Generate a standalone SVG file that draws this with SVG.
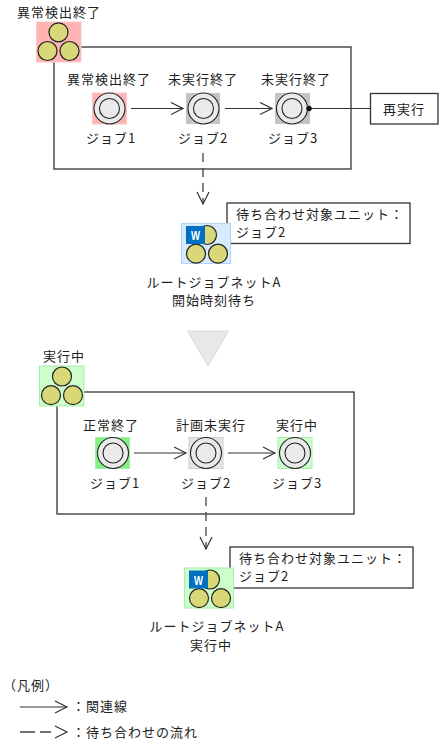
<svg xmlns="http://www.w3.org/2000/svg" width="441" height="743" viewBox="0 0 441 743">
<style>
text{font-family:"Noto Sans CJK JP","Noto Sans",sans-serif;font-size:13px;letter-spacing:1px;fill:#222}
.m{text-anchor:middle}
.box{fill:#fff;stroke:#333;stroke-width:1.3}
.ln{fill:none;stroke:#333;stroke-width:1.2}
.dash{fill:none;stroke:#444;stroke-width:1.3;stroke-dasharray:9 6}
.ball{fill:#d8d878;stroke:#222;stroke-width:1.2}
.i{fill:#eaeaea;stroke:#222;stroke-width:1.1}
.w{font-family:"Liberation Sans",sans-serif;font-size:13px;font-weight:bold;fill:#fff;letter-spacing:0}
</style>
<defs>
<marker id="a" markerUnits="userSpaceOnUse" markerWidth="16" markerHeight="16" refX="13" refY="7" orient="auto"><path d="M1 1L13 7L1 13" fill="none" stroke="#333" stroke-width="1.2"/></marker>
<g id="job"><circle cx="0" cy="0" r="15.500" fill="#eaeaea" stroke="#222" stroke-width="1.1"/><circle cx="0" cy="0" r="10" class="i"/></g>
<g id="net"><circle cx="0" cy="0" r="9.500" class="ball"/><circle cx="-11" cy="18.700" r="9.500" class="ball"/><circle cx="11" cy="18.700" r="9.500" class="ball"/></g>
</defs>
<g id="frame-top"><rect x="54" y="47" width="297" height="122" class="box"/></g>
<g id="frame-bottom"><rect x="57" y="392" width="297" height="122" class="box"/></g>
<g id="connectors">
<path class="ln" d="M131 108.500H183" marker-end="url(#a)"/>
<path class="ln" d="M225 108.500H272" marker-end="url(#a)"/>
<path class="ln" d="M309 108.500H371"/>
<path class="dash" d="M203 153V204" marker-end="url(#a)"/>
<path class="ln" d="M134 453H186" marker-end="url(#a)"/>
<path class="ln" d="M228 453H275" marker-end="url(#a)"/>
<path class="dash" d="M206 497V549" marker-end="url(#a)"/>
<path class="ln" d="M20 707H67" marker-end="url(#a)"/>
<path class="dash" style="stroke-dasharray:15 5 11 100" d="M20 732H67" marker-end="url(#a)"/>
</g>
<g id="net-top"><text x="17" y="17">異常検出終了</text><rect x="36.500" y="22" width="44.500" height="40" fill="#ffb3b3" stroke="#ffc8c8"/><use href="#net" x="58.500" y="32.300"/></g>
<g id="top-job1"><text class="m" x="109" y="84">異常検出終了</text><rect x="92.500" y="93" width="34" height="31" fill="#ffb3b3" stroke="#ffc8c8"/><use href="#job" x="109.500" y="108.500"/><text class="m" x="111" y="143">ジョブ1</text></g>
<g id="top-job2"><text class="m" x="203" y="84">未実行終了</text><rect x="186" y="93" width="34" height="31" fill="#c4c4c4"/><use href="#job" x="203.500" y="108.500"/><text class="m" x="203" y="143">ジョブ2</text></g>
<g id="top-job3"><text class="m" x="296" y="84">未実行終了</text><rect x="275" y="93" width="35" height="31" fill="#c4c4c4"/><use href="#job" x="292" y="108.500"/><circle cx="309" cy="108.500" r="2.700" fill="#111"/><text class="m" x="293" y="143">ジョブ3</text></g>
<g id="rerun"><rect x="370.500" y="93.500" width="67.500" height="30.500" class="box"/><text class="m" x="404" y="114">再実行</text></g>
<g id="wait-top"><rect x="227" y="203" width="183" height="40.500" class="box"/><text x="236" y="218.500">待ち合わせ対象ユニット：</text><text x="236" y="236.500">ジョブ2</text></g>
<g id="root-top"><rect x="181.500" y="223.500" width="49" height="40" fill="#d8eaff" stroke="#b4d4f4"/><use href="#net" x="207" y="235"/><rect x="186" y="226" width="19" height="18" fill="#0070c0"/><text class="w" x="191" y="240" textLength="9" lengthAdjust="spacingAndGlyphs">W</text><text class="m" x="214" y="287">ルートジョブネットA</text><text class="m" x="214" y="305">開始時刻待ち</text></g>
<g id="down-arrow"><path d="M187.500 331H228.500L208 366Z" fill="#e8e8e8" stroke="#d8d8d8"/></g>
<g id="net-bottom"><text x="43" y="361">実行中</text><rect x="39.500" y="366" width="44.500" height="40" fill="#ccffcc" stroke="#a8eea8"/><use href="#net" x="62" y="376.500"/></g>
<g id="bottom-job1"><text class="m" x="111" y="430">正常終了</text><rect x="95.500" y="437.500" width="34" height="31" fill="#80f080" stroke="#a8eea8"/><use href="#job" x="113" y="453"/><text class="m" x="115" y="488">ジョブ1</text></g>
<g id="bottom-job2"><text class="m" x="211" y="430">計画未実行</text><rect x="189" y="437.500" width="34" height="31" fill="#e4e4e4" stroke="#d0d0d0"/><use href="#job" x="206" y="453"/><text class="m" x="206" y="488">ジョブ2</text></g>
<g id="bottom-job3"><text class="m" x="297" y="430">実行中</text><rect x="278" y="437.500" width="34" height="31" fill="#ccffcc" stroke="#a8eea8"/><use href="#job" x="295" y="453"/><text class="m" x="297" y="488">ジョブ3</text></g>
<g id="wait-bottom"><rect x="230" y="547" width="183" height="41" class="box"/><text x="239" y="562.500">待ち合わせ対象ユニット：</text><text x="239" y="580.500">ジョブ2</text></g>
<g id="root-bottom"><rect x="184.500" y="568" width="49" height="40" fill="#ccffcc" stroke="#a8eea8"/><use href="#net" x="210" y="579.500"/><rect x="189" y="570.500" width="19" height="18" fill="#0070c0"/><text class="w" x="194" y="584.500" textLength="9" lengthAdjust="spacingAndGlyphs">W</text><text class="m" x="217" y="631">ルートジョブネットA</text><text class="m" x="211" y="650">実行中</text></g>
<g id="legend"><text x="3" y="689.500">（凡例）</text><text x="72" y="711">：関連線</text><text x="72" y="737">：待ち合わせの流れ</text></g>
</svg>
